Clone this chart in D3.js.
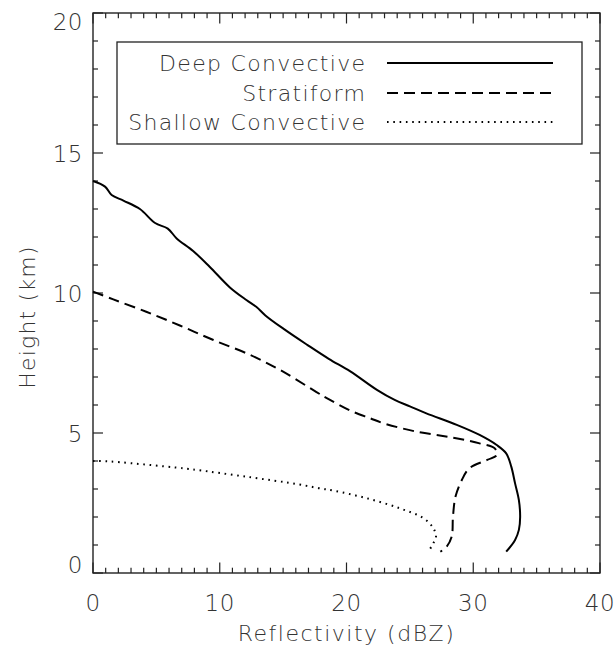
<!DOCTYPE html>
<html><head><meta charset="utf-8">
<script src="https://cdn.jsdelivr.net/npm/d3@7"></script>
<style>
body{margin:0;background:#fff;}
text{font-family:"DejaVu Sans ExtraLight","DejaVu Sans","Liberation Sans",sans-serif;font-weight:200;fill:#333;}
</style></head>
<body><svg id="c" width="615" height="647"></svg>
<script>
const seriesNames = ["Deep Convective", "Stratiform", "Shallow Convective"];
const deepConvective = [[0,14.0],[0.95,13.8],[1.47,13.5],[2.4,13.3],[3.7,13.0],[4.9,12.5],[5.9,12.3],[6.6,11.95],[7.9,11.5],[9.2,10.94],[10.8,10.2],[12.1,9.75],[12.9,9.5],[13.6,9.2],[15.1,8.7],[16.9,8.15],[18.6,7.65],[20.3,7.2],[22.4,6.54],[23.8,6.18],[25.0,5.95],[26.3,5.7],[28.7,5.29],[30.5,4.93],[31.85,4.57],[32.6,4.27],[33.0,3.8],[33.3,3.2],[33.6,2.6],[33.7,2.0],[33.6,1.54],[33.3,1.18],[32.6,0.76]];
const stratiform = [[0,10.05],[1.6,9.77],[4.2,9.33],[6.9,8.83],[9.5,8.32],[12.4,7.79],[15.0,7.19],[17.6,6.47],[18.7,6.18],[20.3,5.8],[21.9,5.52],[22.9,5.35],[25.5,5.05],[28.2,4.85],[30.5,4.63],[31.7,4.45],[31.85,4.21],[31.1,4.04],[29.7,3.74],[29.1,3.32],[28.6,2.73],[28.4,2.01],[28.3,1.3],[27.9,0.94],[27.4,0.76]];
const shallowConvective = [[0,4.0],[0.8,4.0],[7.1,3.74],[8.2,3.68],[12.1,3.44],[16.3,3.16],[17.8,3.03],[19.0,2.94],[21.6,2.67],[24.2,2.31],[26.1,1.95],[26.85,1.6],[27.06,1.3],[26.85,1.06],[26.45,0.76]];
const xTicks = [0,10,20,30,40];
const yTicks = [0,5,10,15,20];
const xTitle = "Reflectivity (dBZ)";
const yTitle = "Height (km)";

const svg = d3.select("#c");
const L=93,R=600,T=13,B=573;
const x = d3.scaleLinear().domain([0,40]).range([L,R]);
const y = d3.scaleLinear().domain([0,20]).range([B,T]);
const ink="#222";

// frame
svg.append("rect").attr("x",L).attr("y",T).attr("width",R-L).attr("height",B-T)
  .attr("fill","none").attr("stroke",ink).attr("stroke-width",1.4);

// ticks
const xMinor = d3.range(0,41,1), yMinor = d3.range(0,21,1);
const g=svg.append("g").attr("stroke",ink).attr("stroke-width",1.2);
xMinor.forEach(v=>{const len = v%10===0?10.5:5.3;
  g.append("line").attr("x1",x(v)).attr("x2",x(v)).attr("y1",B).attr("y2",B-len);
  g.append("line").attr("x1",x(v)).attr("x2",x(v)).attr("y1",T).attr("y2",T+len);});
yMinor.forEach(v=>{const len = v%5===0?10:5;
  g.append("line").attr("y1",y(v)).attr("y2",y(v)).attr("x1",L).attr("x2",L+len);
  g.append("line").attr("y1",y(v)).attr("y2",y(v)).attr("x1",R).attr("x2",R-len);});

// tick labels
const fs=23;
svg.selectAll(".xl").data(xTicks).join("text").attr("x",d=>x(d)).attr("y",B+38)
  .attr("text-anchor","middle").attr("font-size",fs).attr("letter-spacing",0.5).text(d=>d);
svg.selectAll(".yl").data(yTicks).join("text").attr("x",L-10)
  .attr("y",d=>{let c=y(d); if(d===0) c=B-8.5; if(d===20) c=T+8.5; return c+8.5;})
  .attr("text-anchor","end").attr("font-size",fs).attr("letter-spacing",0.5).text(d=>d);

// titles
svg.append("text").attr("x",(L+R)/2).attr("y",641).attr("text-anchor","middle")
  .attr("font-size",22).attr("letter-spacing",1.5).text(xTitle);
svg.append("text").attr("transform","translate(35,"+((T+B)/2+24)+") rotate(-90)")
  .attr("text-anchor","middle").attr("font-size",22).attr("letter-spacing",1.2).text(yTitle);

// lines
const line = d3.line().x(d=>x(d[0])).y(d=>y(d[1])).curve(d3.curveCatmullRom.alpha(0.5));
const styles = [{dash:null,w:2},{dash:"11,6",w:2},{dash:"1.6,4.7",w:2}];
const data=[deepConvective,stratiform,shallowConvective];
data.forEach((s,i)=>{
  svg.append("path").attr("d",line(s)).attr("fill","none").attr("stroke","#000")
    .attr("stroke-width",styles[i].w).attr("stroke-dasharray",styles[i].dash);
});

// legend
svg.append("rect").attr("x",117).attr("y",42).attr("width",465).attr("height",102)
  .attr("fill","#fff").attr("stroke",ink).attr("stroke-width",1.3);
const ly=[63,93,122];
seriesNames.forEach((n,i)=>{
  svg.append("text").attr("x",366.3).attr("y",ly[i]+8).attr("text-anchor","end")
    .attr("font-size",22).attr("letter-spacing",1.3).text(n);
  svg.append("line").attr("x1",387).attr("x2",553).attr("y1",ly[i]).attr("y2",ly[i])
    .attr("stroke","#000").attr("stroke-width",styles[i].w).attr("stroke-dasharray",styles[i].dash);
});
</script></body></html>
